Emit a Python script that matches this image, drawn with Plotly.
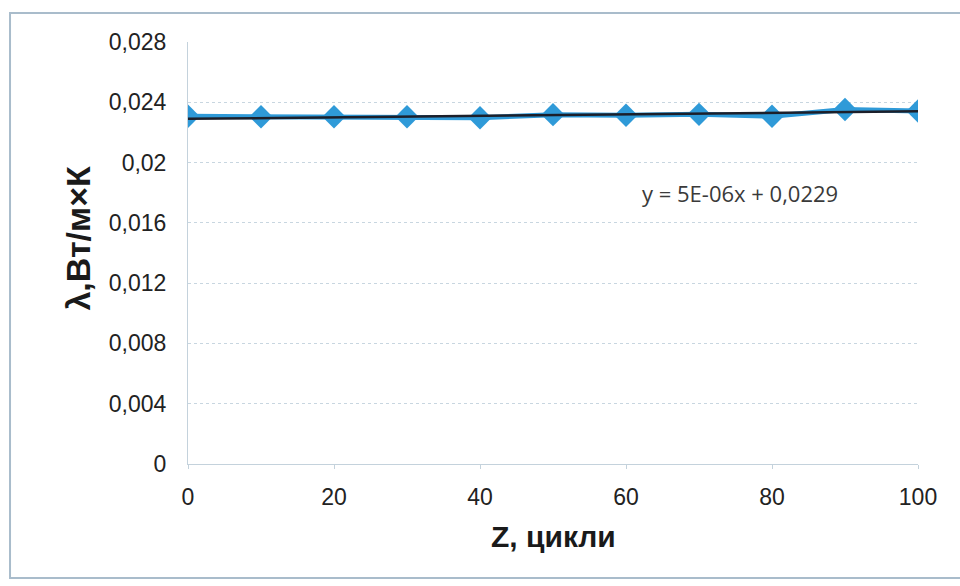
import plotly.graph_objects as go

# Thermal conductivity vs. number of cycles
cycles = [0, 10, 20, 30, 40, 50, 60, 70, 80, 90, 100]
conductivity = [0.02307, 0.02304, 0.02304, 0.02304, 0.02297, 0.02318,
                0.02314, 0.02320, 0.02307, 0.02352, 0.02342]

# Linear trend as given by the fitted equation
trend_slope = 5e-06
trend_intercept = 0.0229
trend_x = [0, 100]
trend_y = [trend_intercept + trend_slope * x for x in trend_x]

y_ticks = [0, 0.004, 0.008, 0.012, 0.016, 0.02, 0.024, 0.028]
y_tick_text = ["0", "0,004", "0,008", "0,012", "0,016", "0,02", "0,024", "0,028"]
x_ticks = [0, 20, 40, 60, 80, 100]

fig = go.Figure()
fig.add_trace(go.Scatter(
    x=cycles, y=conductivity, mode="lines+markers",
    line=dict(color="#2f9ad8", width=5),
    marker=dict(symbol="diamond", size=18, color="#2f9ad8"),
    showlegend=False,
))
fig.add_trace(go.Scatter(
    x=trend_x, y=trend_y, mode="lines",
    line=dict(color="#1c1f2a", width=2.5),
    showlegend=False,
))

fig.add_annotation(
    x=75.6, y=0.0180, xref="x", yref="y",
    text="y = 5E-06x + 0,0229", showarrow=False,
    font=dict(family="Open Sans", size=22, color="#3a3a3a"),
)
fig.add_annotation(
    x=0.5, y=-0.215, xref="paper", yref="paper",
    text="<b>Z, цикли</b>", showarrow=False,
    font=dict(family="Liberation Sans", size=30, color="#1a1a1a"),
)
fig.add_annotation(
    x=-0.179, y=0.535, xref="paper", yref="paper",
    text="<b>λ,Вт/м×К</b>", textangle=-90, showarrow=False,
    font=dict(family="Liberation Sans", size=34, color="#1a1a1a"),
)

# Outer chart frame
fig.add_shape(
    type="rect", xref="paper", yref="paper",
    x0=-0.2438, x1=1.2, y0=-0.270, y1=1.0687,
    line=dict(color="#a9bccb", width=2), fillcolor="rgba(0,0,0,0)",
    layer="below",
)

fig.update_layout(
    width=960, height=586,
    margin=dict(l=188, r=42, t=42, b=122),
    paper_bgcolor="white", plot_bgcolor="white",
    xaxis=dict(
        range=[0, 100], tickvals=x_ticks,
        showgrid=False, zeroline=False,
        showline=True, linecolor="#c4d2dc", linewidth=1,
        ticks="outside", ticklen=4, tickcolor="#c4d2dc",
        ticklabelstandoff=8,
        tickfont=dict(family="Liberation Sans", size=23, color="#222222"),
    ),
    yaxis=dict(
        range=[0, 0.028], tickvals=y_ticks, ticktext=y_tick_text,
        showgrid=True, gridcolor="#c8d6e0", gridwidth=1, griddash="dot",
        zeroline=False, showline=True, linecolor="#c4d2dc", linewidth=1,
        ticks="", ticklabelstandoff=16,
        tickfont=dict(family="Liberation Sans", size=23, color="#222222"),
    ),
)

fig.write_html("out.html")
